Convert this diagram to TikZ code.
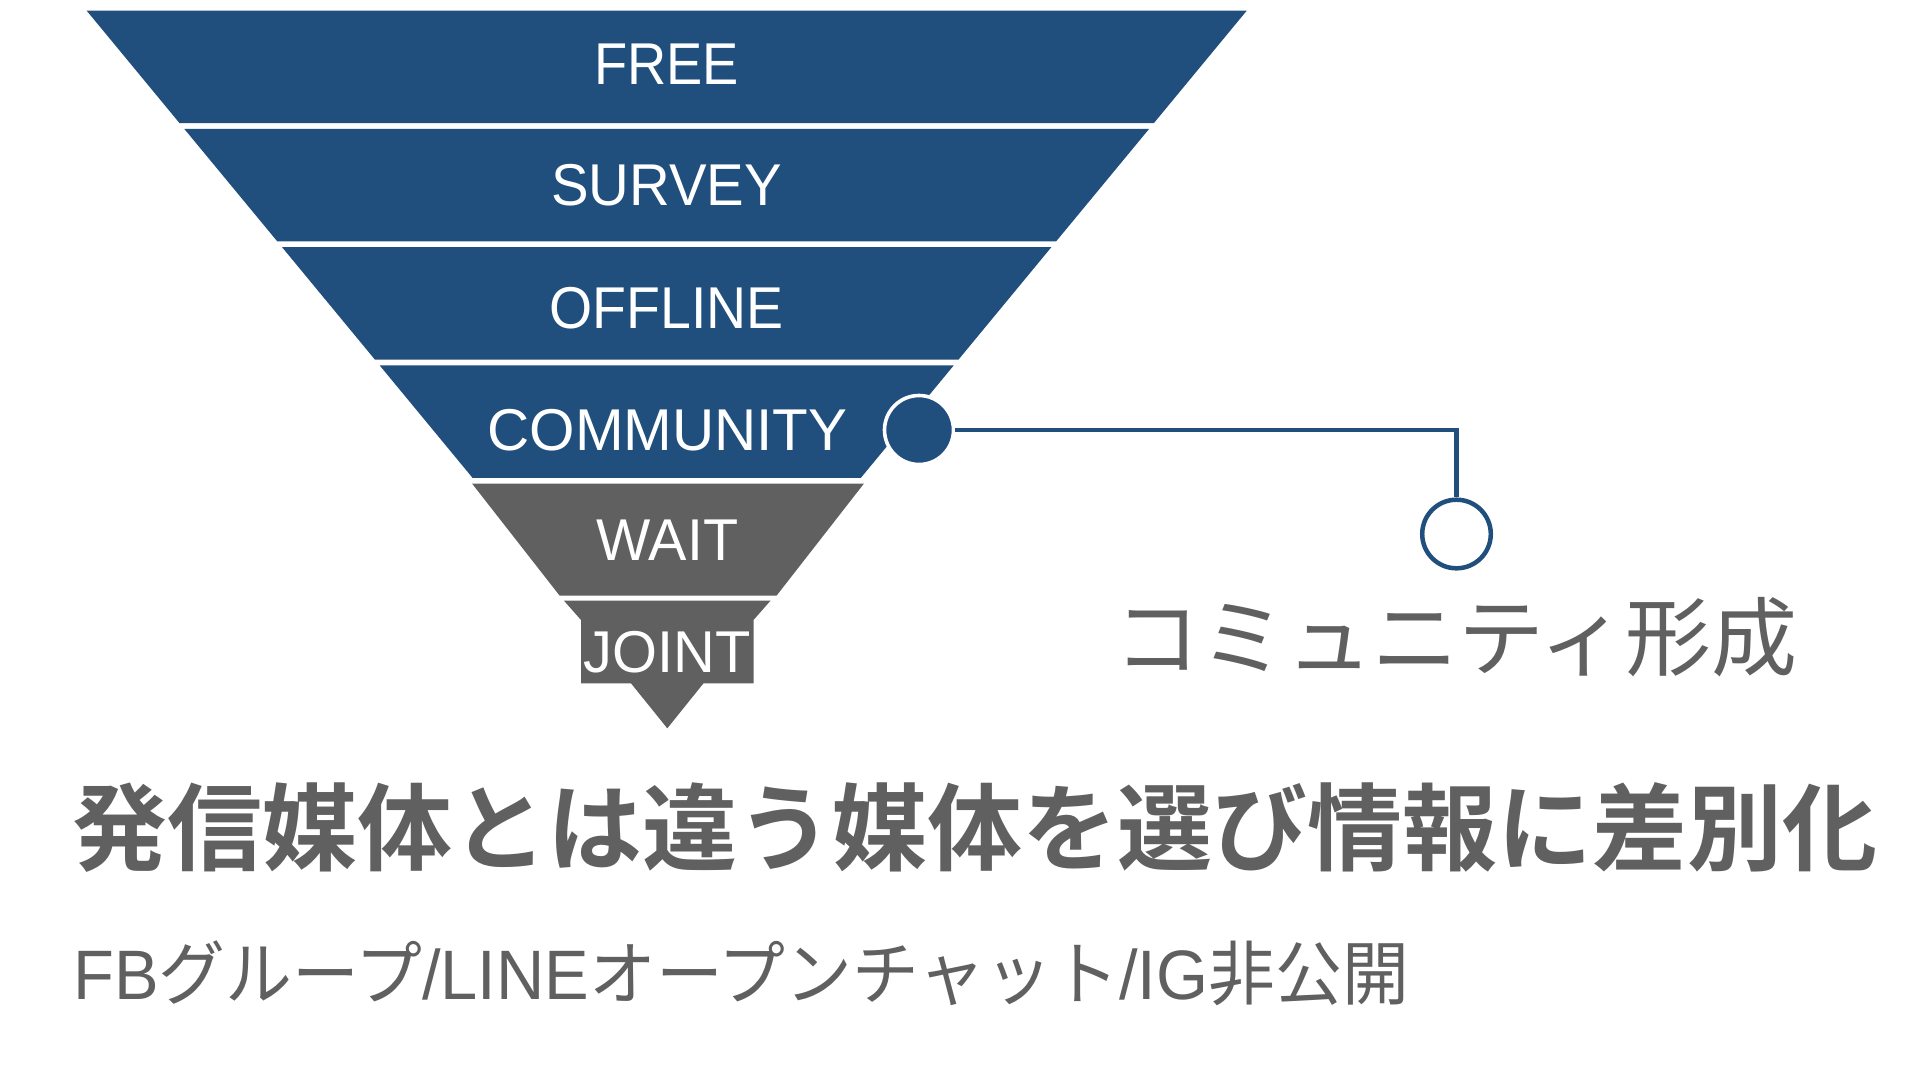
\documentclass[tikz,border=0pt]{standalone}
\usepackage{fontspec}
\setmainfont{Liberation Sans}
\newfontfamily\cjk{Noto Sans CJK JP}
\newfontfamily\cjkb{Noto Sans CJK JP Bold}
\definecolor{fblue}{RGB}{32,79,125}
\definecolor{tgray}{RGB}{96,96,96}
\begin{document}
\begin{tikzpicture}[x=1pt,y=-1pt,
  band/.style={fill=fblue},
  gband/.style={fill=tgray},
  lbl/.style={text=white,inner sep=0pt,anchor=base,font=\fontsize{59}{70}\selectfont},
  conn/.style={draw=fblue,line width=4.5pt}]
\useasboundingbox (0,0) rectangle (1920,1080);
% funnel bands
\fill[band] (86.7,10.7) -- (1246.7,10.7) -- (1153.8,123.2) -- (179.6,123.2) -- cycle;
\fill[band] (184.3,128.9) -- (1149.1,128.9) -- (1056.1,241.4) -- (277.3,241.4) -- cycle;
\fill[band] (282.0,247.1) -- (1051.4,247.1) -- (958.5,359.6) -- (374.9,359.6) -- cycle;
\fill[band] (379.6,365.3) -- (953.8,365.3) -- (860.9,477.8) -- (472.5,477.8) -- cycle;
\fill[gband] (472.0,483.5) -- (864.0,483.5) -- (776.5,595.7) -- (559.7,595.7) -- cycle;
\fill[gband] (564.0,600.7) -- (770.5,600.7) -- (753.5,620) -- (753.5,683.3)
  -- (703.5,683.3) -- (667.3,728.3) -- (631.0,683.3) -- (581.0,683.3)
  -- (581.0,620) -- cycle;
% labels
\node[lbl] (free) at (666.7,84) {\scalebox{0.92}[1]{FREE}};
\node[lbl] (survey) at (666.7,205.5) {\scalebox{0.955}[1]{SURVEY}};
\node[lbl] (offline) at (666.7,328) {\scalebox{0.94}[1]{OFFLINE}};
\node[lbl] (community) at (667.5,450.5) {\scalebox{0.99}[1]{COMMUNITY}};
\node[lbl] (wait) at (667.5,560.7) {\scalebox{0.975}[1]{WAIT}};
\node[lbl] (joint) at (667.5,672.7) {\scalebox{0.98}[1]{JOINT}};
% connector
\node[circle,fill=fblue,draw=white,line width=3.6pt,minimum size=69pt,inner sep=0pt] (cdot) at (919,430) {};
\node[circle,fill=white,draw=fblue,line width=4.5pt,minimum size=68.6pt,inner sep=0pt] (cring) at (1456.5,534) {};
\draw[conn] (cdot) -| (cring);
\node[anchor=base west,inner sep=0pt,text=tgray,font=\cjk\fontsize{86}{100}\selectfont] (komi) at (1114,669) {コミュニティ形成};
% texts
\node[anchor=base west,inner sep=0pt,text=tgray,font=\cjkb\fontsize{95}{110}\selectfont] (title) at (72,863) {発信媒体とは違う媒体を選び情報に差別化};
\node[anchor=base west,inner sep=0pt,text=tgray,font=\fontsize{70}{84}\selectfont] (sub) at (73,999) {\scalebox{0.955}[1]{FB{\cjk グループ}/LINE{\cjk オープンチャット}/IG{\cjk 非公開}}};
\end{tikzpicture}
\end{document}
